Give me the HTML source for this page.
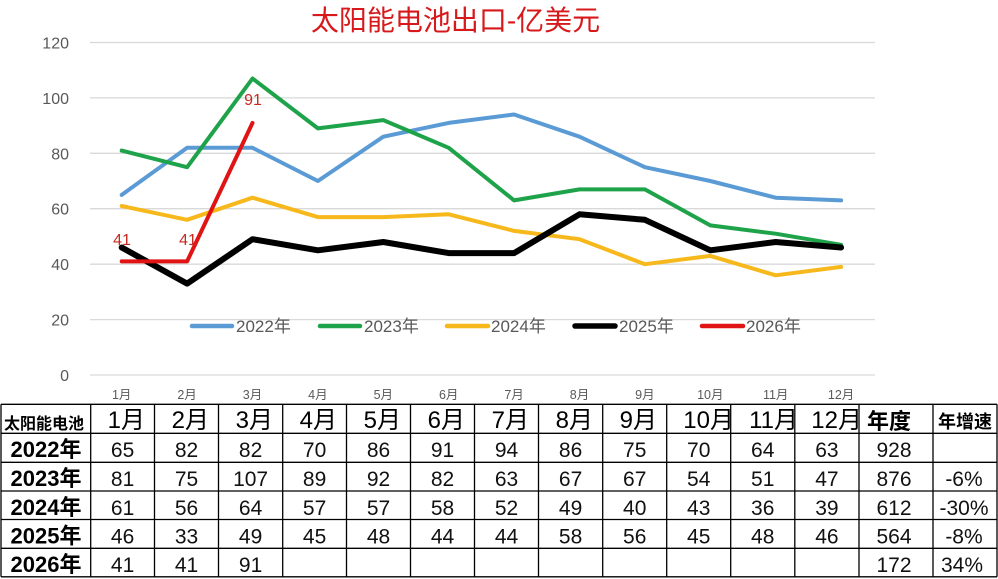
<!DOCTYPE html>
<html>
<head>
<meta charset="utf-8">
<style>
  html, body { margin:0; padding:0; background:#fff; }
  svg { display:block; }
  text { font-family: "Liberation Sans", "Noto Sans CJK SC", sans-serif; }
</style>
</head>
<body>
<svg width="998" height="579" viewBox="0 0 998 579" xmlns="http://www.w3.org/2000/svg">
  <rect x="0" y="0" width="998" height="579" fill="#fff"/>

  <!-- Title -->
  <text x="455.5" y="30" font-size="28" fill="#d7191c" text-anchor="middle">太阳能电池出口-亿美元</text>

  <!-- Gridlines -->
  <g stroke="#d9d9d9" stroke-width="1.3">
    <line x1="90" y1="42.5" x2="875" y2="42.5"/>
    <line x1="90" y1="97.9" x2="875" y2="97.9"/>
    <line x1="90" y1="153.3" x2="875" y2="153.3"/>
    <line x1="90" y1="208.7" x2="875" y2="208.7"/>
    <line x1="90" y1="264.2" x2="875" y2="264.2"/>
    <line x1="90" y1="319.6" x2="875" y2="319.6"/>
    <line x1="90" y1="375" x2="875" y2="375"/>
  </g>

  <!-- Y axis labels -->
  <g font-size="16" fill="#595959" text-anchor="end">
    <text x="69" y="48.5">120</text>
    <text x="69" y="103.9">100</text>
    <text x="69" y="159.3">80</text>
    <text x="69" y="214.7">60</text>
    <text x="69" y="270.2">40</text>
    <text x="69" y="325.6">20</text>
    <text x="69" y="381">0</text>
  </g>

  <!-- X axis labels -->
  <g font-size="12.5" fill="#595959" text-anchor="middle">
    <text x="121.7" y="399">1月</text>
    <text x="187.1" y="399">2月</text>
    <text x="252.5" y="399">3月</text>
    <text x="317.9" y="399">4月</text>
    <text x="383.3" y="399">5月</text>
    <text x="448.7" y="399">6月</text>
    <text x="514.1" y="399">7月</text>
    <text x="579.5" y="399">8月</text>
    <text x="644.9" y="399">9月</text>
    <text x="710.3" y="399">10月</text>
    <text x="775.7" y="399">11月</text>
    <text x="841.1" y="399">12月</text>
  </g>

  <!-- Series -->
  <g fill="none" stroke-linejoin="round" stroke-linecap="round">
    <polyline stroke="#5b9bd5" stroke-width="4"
      points="121.7,194.9 187.1,147.8 252.5,147.8 317.9,181.0 383.3,136.7 448.7,122.9 514.1,114.5 579.5,136.7 644.9,167.2 710.3,181.0 775.7,197.7 841.1,200.4"/>
    <polyline stroke="#1fa34a" stroke-width="4"
      points="121.7,150.6 187.1,167.2 252.5,78.5 317.9,128.4 383.3,120.1 448.7,147.8 514.1,200.4 579.5,189.4 644.9,189.4 710.3,225.4 775.7,233.7 841.1,244.8"/>
    <polyline stroke="#f7b81c" stroke-width="4"
      points="121.7,206.0 187.1,219.8 252.5,197.7 317.9,217.1 383.3,217.1 448.7,214.3 514.1,230.9 579.5,239.2 644.9,264.2 710.3,255.9 775.7,275.3 841.1,266.9"/>
    <polyline stroke="#000000" stroke-width="6"
      points="121.7,247.5 187.1,283.6 252.5,239.2 317.9,250.3 383.3,242.0 448.7,253.1 514.1,253.1 579.5,214.3 644.9,219.8 710.3,250.3 775.7,242.0 841.1,247.5"/>
    <polyline stroke="#e01414" stroke-width="4"
      points="121.7,261.4 187.1,261.4 252.5,122.9"/>
  </g>

  <!-- Data labels -->
  <g font-size="16" fill="#c8281e" text-anchor="middle">
    <text x="122" y="245">41</text>
    <text x="188" y="245">41</text>
    <text x="253" y="105">91</text>
  </g>

  <!-- Legend -->
  <g stroke-width="4.5" stroke-linecap="round">
    <line x1="192" y1="326" x2="232" y2="326" stroke="#5b9bd5"/>
    <line x1="320" y1="326" x2="360" y2="326" stroke="#1fa34a"/>
    <line x1="447" y1="326" x2="488" y2="326" stroke="#f7b81c"/>
    <line x1="575" y1="326" x2="615" y2="326" stroke="#000000" stroke-width="5.5"/>
    <line x1="702" y1="326" x2="743" y2="326" stroke="#e01414"/>
  </g>
  <g font-size="17" fill="#595959">
    <text x="236" y="332">2022年</text>
    <text x="364" y="332">2023年</text>
    <text x="491" y="332">2024年</text>
    <text x="619" y="332">2025年</text>
    <text x="746" y="332">2026年</text>
  </g>

  <!-- ===== Table ===== -->
  <text x="44" y="429" font-size="16" font-weight="bold" fill="#000" text-anchor="middle">太阳能电池</text>
  <g font-size="24" fill="#000" text-anchor="end">
    <text x="145" y="428">1月</text>
    <text x="209" y="428">2月</text>
    <text x="273" y="428">3月</text>
    <text x="337" y="428">4月</text>
    <text x="401" y="428">5月</text>
    <text x="465" y="428">6月</text>
    <text x="529" y="428">7月</text>
    <text x="593" y="428">8月</text>
    <text x="657" y="428">9月</text>
    <text x="734" y="428">10月</text>
    <text x="798" y="428">11月</text>
    <text x="862" y="428">12月</text>
  </g>
  <text x="889" y="429" font-size="22" font-weight="bold" fill="#000" text-anchor="middle">年度</text>
  <text x="965" y="428" font-size="18" font-weight="bold" fill="#000" text-anchor="middle">年增速</text>

  <g font-size="22" font-weight="bold" fill="#000" text-anchor="middle">
    <text x="46" y="457">2022年</text>
    <text x="46" y="486">2023年</text>
    <text x="46" y="515">2024年</text>
    <text x="46" y="543.5">2025年</text>
    <text x="46" y="572">2026年</text>
  </g>

  <g font-size="21" fill="#111" text-anchor="middle">
    <text x="122.6" y="457">65</text><text x="186.5" y="457">82</text><text x="250.6" y="457">82</text>
    <text x="314.6" y="457">70</text><text x="378.5" y="457">86</text><text x="442.5" y="457">91</text>
    <text x="506.5" y="457">94</text><text x="570.6" y="457">86</text><text x="634.7" y="457">75</text>
    <text x="698.7" y="457">70</text><text x="762.7" y="457">64</text><text x="826.9" y="457">63</text>
    <text x="894" y="457">928</text>
    <text x="122.6" y="486">81</text><text x="186.5" y="486">75</text><text x="250.6" y="486">107</text>
    <text x="314.6" y="486">89</text><text x="378.5" y="486">92</text><text x="442.5" y="486">82</text>
    <text x="506.5" y="486">63</text><text x="570.6" y="486">67</text><text x="634.7" y="486">67</text>
    <text x="698.7" y="486">54</text><text x="762.7" y="486">51</text><text x="826.9" y="486">47</text>
    <text x="894" y="486">876</text><text x="964" y="486">-6%</text>
    <text x="122.6" y="515">61</text><text x="186.5" y="515">56</text><text x="250.6" y="515">64</text>
    <text x="314.6" y="515">57</text><text x="378.5" y="515">57</text><text x="442.5" y="515">58</text>
    <text x="506.5" y="515">52</text><text x="570.6" y="515">49</text><text x="634.7" y="515">40</text>
    <text x="698.7" y="515">43</text><text x="762.7" y="515">36</text><text x="826.9" y="515">39</text>
    <text x="894" y="515">612</text><text x="964" y="515">-30%</text>
    <text x="122.6" y="543.5">46</text><text x="186.5" y="543.5">33</text><text x="250.6" y="543.5">49</text>
    <text x="314.6" y="543.5">45</text><text x="378.5" y="543.5">48</text><text x="442.5" y="543.5">44</text>
    <text x="506.5" y="543.5">44</text><text x="570.6" y="543.5">58</text><text x="634.7" y="543.5">56</text>
    <text x="698.7" y="543.5">45</text><text x="762.7" y="543.5">48</text><text x="826.9" y="543.5">46</text>
    <text x="894" y="543.5">564</text><text x="964" y="543.5">-8%</text>
    <text x="122.6" y="572">41</text><text x="186.5" y="572">41</text><text x="250.6" y="572">91</text>
    <text x="894" y="572">172</text><text x="962" y="572">34%</text>
  </g>

  <rect x="731.3" y="405" width="2.5" height="27.5" fill="#fff"/>
  <rect x="795.4" y="405" width="2.5" height="27.5" fill="#fff"/>
  <rect x="859.6" y="405" width="2.5" height="27.5" fill="#fff"/>

  <g stroke="#000" stroke-width="1.3">
    <line x1="1" y1="404.3" x2="997" y2="404.3"/>
    <line x1="1" y1="433.3" x2="997" y2="433.3"/>
    <line x1="1" y1="462.3" x2="997" y2="462.3"/>
    <line x1="1" y1="491" x2="997" y2="491"/>
    <line x1="1" y1="519.5" x2="997" y2="519.5"/>
    <line x1="1" y1="548.3" x2="997" y2="548.3"/>
    <line x1="1" y1="576.8" x2="997" y2="576.8"/>

    <line x1="1" y1="404.3" x2="1" y2="576.8"/>
    <line x1="90.7" y1="404.3" x2="90.7" y2="576.8"/>
    <line x1="154.5" y1="404.3" x2="154.5" y2="576.8"/>
    <line x1="218.5" y1="404.3" x2="218.5" y2="576.8"/>
    <line x1="282.7" y1="404.3" x2="282.7" y2="576.8"/>
    <line x1="346.5" y1="404.3" x2="346.5" y2="576.8"/>
    <line x1="410.5" y1="404.3" x2="410.5" y2="576.8"/>
    <line x1="474.5" y1="404.3" x2="474.5" y2="576.8"/>
    <line x1="538.5" y1="404.3" x2="538.5" y2="576.8"/>
    <line x1="602.7" y1="404.3" x2="602.7" y2="576.8"/>
    <line x1="666.7" y1="404.3" x2="666.7" y2="576.8"/>
    <line x1="730.7" y1="404.3" x2="730.7" y2="576.8"/>
    <line x1="794.8" y1="404.3" x2="794.8" y2="576.8"/>
    <line x1="859" y1="404.3" x2="859" y2="576.8"/>
    <line x1="933" y1="404.3" x2="933" y2="576.8"/>
    <line x1="997" y1="404.3" x2="997" y2="576.8"/>
  </g>
</svg>
</body>
</html>
